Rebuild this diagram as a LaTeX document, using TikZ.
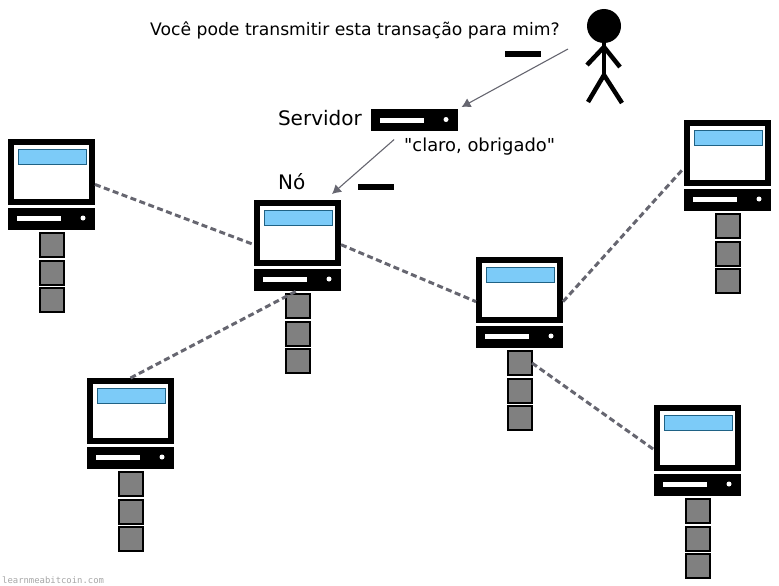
\documentclass[tikz,border=0pt]{standalone}
\usepackage{fontspec}
\setmainfont{DejaVu Sans}
\newfontfamily\sayfont{DejaVu Sans}
\newfontfamily\sitefont{DejaVu Sans Mono}
\usetikzlibrary{positioning,calc,arrows.meta}

\definecolor{barblue}{HTML}{7CCBF8}
\definecolor{barline}{HTML}{1F6285}
\definecolor{linkgrey}{HTML}{666670}
\definecolor{blockgrey}{HTML}{808080}

\tikzset{
  monitor/.style={rectangle, draw=black, fill=white, line width=6pt, minimum width=81pt, minimum height=60pt, inner sep=0pt, outer sep=3pt},
  bar/.style={rectangle, draw=barline, fill=barblue, line width=.6pt, minimum width=68pt, minimum height=15pt, inner sep=0pt, outer sep=0pt},
  tower/.style={rectangle, fill=black, minimum width=87pt, minimum height=22pt, inner sep=0pt, outer sep=0pt},
  towerslot/.style={rectangle, fill=white, minimum width=44pt, minimum height=5pt, inner sep=0pt, outer sep=0pt},
  towerdot/.style={circle, fill=white, minimum size=5pt, inner sep=0pt, outer sep=0pt},
  block/.style={rectangle, draw=black, fill=blockgrey, line width=2pt, minimum size=24pt, inner sep=0pt, outer sep=.5pt},
  flag/.style={rectangle, fill=black, minimum width=36pt, minimum height=6pt, inner sep=0pt, outer sep=0pt},
  link/.style={draw=linkgrey, line width=3pt, dash pattern=on 6pt off 3.5pt},
  msg/.style={draw=linkgrey, line width=1.1pt, -{Latex[length=9pt,width=10pt]}},
  stick/.style={draw=black, line width=4.5pt},
  say/.style={inner sep=0pt, font=\sayfont\fontsize{17.2}{20}\selectfont},
  tag/.style={inner sep=0pt, font=\fontsize{20}{24}\selectfont}
}

% slot and dot of a tower
\newcommand{\towerparts}[1]{
  \node[towerslot, anchor=west] (s#1) at ($(#1.west)+(9,0)$) {};
  \node[towerdot] (d#1) at ($(#1.west)+(75,-.5)$) {};
}

% one computer: screen, tower and its three blocks
\newcommand{\computer}[3]{
  \node[monitor, anchor=north west] (m#1) at (#2,#3) {};
  \node[bar, anchor=north west] (h#1) at ($(m#1.north west)+(10,10)$) {};
  \node[tower, below=2.5pt of m#1] (t#1) {};
  \towerparts{t#1}
  \node[block, below=3pt of t#1] (a#1) {};
  \node[block, below=2.5pt of a#1] (b#1) {};
  \node[block, below=2.5pt of b#1] (c#1) {};
}

\begin{document}
\begin{tikzpicture}[x=1pt, y=-1pt]
  \useasboundingbox (0,0) rectangle (779,586);

  \computer{A}{8}{139}
  \computer{B}{254}{200}
  \computer{C}{87}{378}
  \computer{D}{476}{257}
  \computer{E}{684}{120}
  \computer{F}{654}{405}

  \draw[link] (mA.-16.6) -- (mB.195);
  \draw[link] (mB.-15.4) -- (mD.195);
  \draw[link] (mC.north) -- (tB.south);
  \draw[link] (mD.-15.4) -- (mE.199);
  \draw[link] (aD.east) -- (mF.195);

  % server
  \node[tower, anchor=north west] (srv) at (371,109) {};
  \towerparts{srv}
  \node[tag, anchor=east] (srvname) at (362,118) {Servidor};
  \node[tag, anchor=west] (noname) at (278,182) {Nó};

  % person
  \node[circle, fill=black, minimum size=34pt, inner sep=0pt] (head) at (604,26) {};
  \coordinate (hip) at (604,75);
  \draw[stick] (head) -- (hip);
  \draw[stick] (587,65) -- (604,47) -- (620,67);
  \draw[stick] (588,102) -- (hip) -- (622,103);

  % messages
  \node[say, anchor=east] (ask) at (560,30) {Você pode transmitir esta transação para mim?};
  \node[say, anchor=west, font=\sayfont\fontsize{17.9}{20}\selectfont] (reply) at (404,147) {"claro, obrigado"};
  \node[flag] (flagtop) at (523,54) {};
  \node[flag] (flagnode) at (375.5,186.5) {};

  \coordinate (fromperson) at (568,49);
  \draw[msg, shorten >=4pt] (fromperson) -- (srv.north east);
  \draw[msg, shorten <=13pt, shorten >=9pt] (srv.-134) -- (mB.50);

  \node[anchor=west, inner sep=0pt, text=black!35, font=\sitefont\fontsize{8.9}{10}\selectfont] (site) at (2,580) {learnmeabitcoin.com};
\end{tikzpicture}
\end{document}
